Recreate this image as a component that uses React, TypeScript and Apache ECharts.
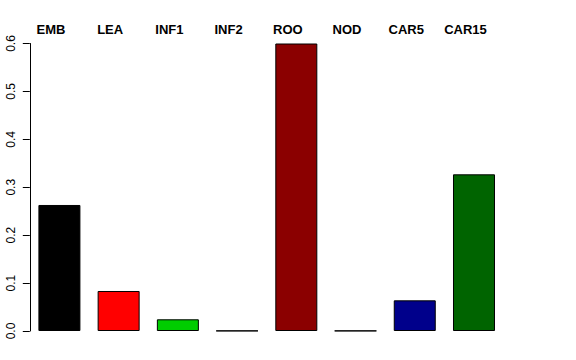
import React, { useEffect, useRef } from "react";
import * as echarts from "echarts";

const categories = ["EMB", "LEA", "INF1", "INF2", "ROO", "NOD", "CAR5", "CAR15"];
const values = [0.263, 0.0835, 0.0244, 0.0005, 0.6, 0.0005, 0.064, 0.327];
const colors = ["#000000", "#FF0000", "#00CD00", "#0000FF", "#8B0000", "#00CDCD", "#00008B", "#006400"];
const yTicks = [0, 0.1, 0.2, 0.3, 0.4, 0.5, 0.6];

export default function App() {
  const ref = useRef<HTMLDivElement>(null);
  useEffect(() => {
    const chart = echarts.init(ref.current!, null, { renderer: "svg" });
    chart.setOption({
      animation: false,
      backgroundColor: "#ffffff",
      grid: { left: 29.8, right: 72.4, top: 43.5, bottom: 29 },
      xAxis: {
        type: "category",
        position: "top",
        data: categories,
        axisLine: { show: false },
        axisTick: { show: false },
        axisLabel: {
          fontFamily: "Liberation Sans, Arial, sans-serif",
          fontWeight: "bold",
          fontSize: 13,
          color: "#000",
          margin: 7.5,
          padding: [0, 17, 0, 0],
          interval: 0,
        },
      },
      yAxis: {
        type: "value",
        min: yTicks[0],
        max: yTicks[yTicks.length - 1],
        interval: 0.1,
        splitLine: { show: false },
        axisLine: { show: true, lineStyle: { color: "#000", width: 1 } },
        axisTick: { show: true, length: 7, lineStyle: { color: "#000" } },
        axisLabel: {
          rotate: 90,
          fontFamily: "Liberation Sans, Arial, sans-serif",
          fontSize: 12,
          color: "#000",
          margin: 13,
          formatter: (v: number) => v.toFixed(1),
        },
      },
      series: [
        {
          type: "bar",
          barWidth: 42,
          data: values.map((v, i) => ({
            value: v,
            itemStyle: { color: colors[i], borderColor: "#000", borderWidth: 1 },
          })),
        },
      ],
    });
    return () => chart.dispose();
  }, []);
  return <div ref={ref} style={{ width: 576, height: 360, position: "absolute", left: 0, top: 0 }} />;
}
